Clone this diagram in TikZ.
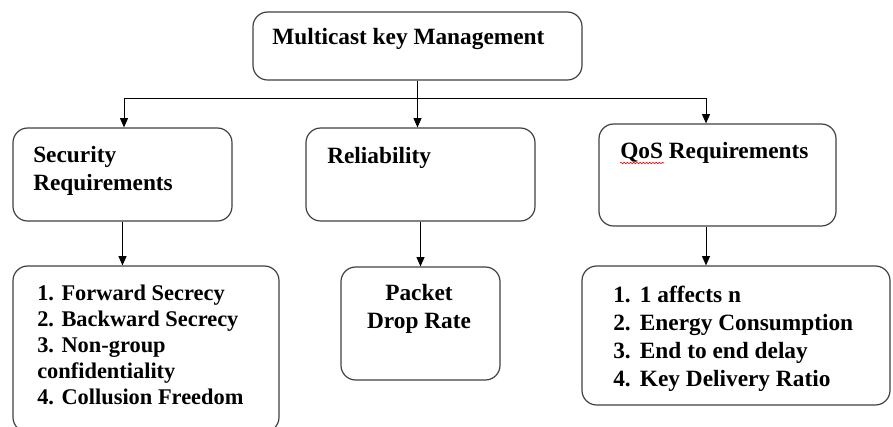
\documentclass[tikz,border=0pt]{standalone}
\usepackage{fontspec}
\setmainfont{Liberation Serif}
\usetikzlibrary{arrows.meta,decorations.pathmorphing}

\tikzset{
  box/.style={draw=black!75, line width=0.9pt, rounded corners=11pt, fill=white},
  txt/.style={inner sep=0pt, font=\fontsize{17.5}{21}\selectfont\bfseries, align=left},
  arr/.style={-{Triangle[length=7pt,width=6pt]}, line width=0.75pt},
}
\newcommand{\itm}[1]{\makebox[20pt][l]{#1}}

\begin{document}
\begin{tikzpicture}[x=0.75pt,y=0.75pt,yscale=-1,xscale=1]
\useasboundingbox (0,0) rectangle (893,426);

%Boxes
\node [box, minimum width=246.75pt, minimum height=51pt] (mkm) at (417.5,46) {};
\node [box, minimum width=164.25pt, minimum height=69.75pt] (sec) at (122.5,174.5) {};
\node [box, minimum width=171.75pt, minimum height=69.75pt] (rel) at (420.5,174.5) {};
\node [box, minimum width=177.75pt, minimum height=76.5pt] (qos) at (717.5,175) {};
\node [box, minimum width=199.5pt, minimum height=124.5pt] (secl) at (146,349) {};
\node [box, minimum width=119.25pt, minimum height=84.75pt] (pdr) at (420.5,323.5) {};
\node [box, minimum width=231pt, minimum height=104.25pt] (qosl) at (736,335.5) {};

%Bus line
\coordinate (busL) at (124,98);
\coordinate (busR) at (706,98);
\draw [line width=0.75pt] (busL) -- (busR);

%Arrows
\draw [arr] (mkm.south) -- (mkm.south |- rel.north);
\draw [arr] (busL) -- (busL |- sec.north);
\draw [arr] (busR) -- (busR |- qos.north);
\draw [arr] (sec.south) -- (sec.south |- secl.north);
\draw [arr] (rel.south) -- (rel.south |- pdr.north);
\draw [arr] (busR |- qos.south) -- (busR |- qosl.north);

% Text Nodes
\node [txt, anchor=base west] (mkmtxt) at (272,44) {Multicast key Management};
\node [txt, anchor=north west] (sectxt) at (33,146) {Security\\Requirements};
\node [txt, anchor=base west] (reltxt) at (327,163) {Reliability};
\node [txt, anchor=base west] (qostxt) at (620,158) {QoS Requirements};
\draw [red, line width=0.5pt, decorate, decoration={snake, amplitude=0.5pt, segment length=2.4pt}]
  (qostxt.base west) ++(0,5) -- ++(44,0);
\node [txt, anchor=north west, font=\fontsize{16.8}{19.5}\selectfont\bfseries] (secltxt) at (37,285)
  {1. Forward Secrecy\\2. Backward Secrecy\\3. Non-group\\confidentiality\\4. Collusion Freedom};
\node [txt, anchor=north, align=center] (pdrtxt) at (419,284) {Packet\\Drop Rate};
\node [txt, anchor=north west] (qosltxt) at (613,286)
  {\itm{1.}1 affects n\\\itm{2.}Energy Consumption\\\itm{3.}End to end delay\\\itm{4.}Key Delivery Ratio};

\end{tikzpicture}
\end{document}
